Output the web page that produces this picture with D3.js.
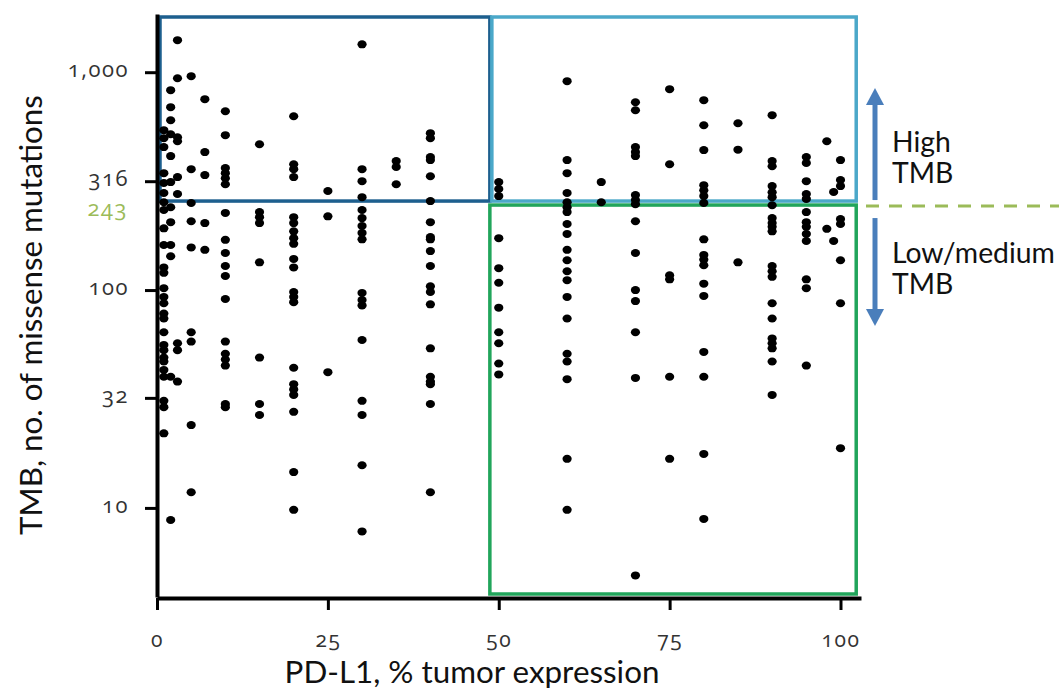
<!DOCTYPE html>
<html>
<head>
<meta charset="utf-8">
<script src="https://cdn.jsdelivr.net/npm/d3@7"></script>
<style>
  body { margin: 0; background: #fff; }
  .tick text, .num { font-family: "Open Sans", "Noto Sans", sans-serif; font-variant-numeric: oldstyle-nums; letter-spacing: 1.5px; }
  .title, .note { font-family: Lato, "Open Sans", sans-serif; fill: #111; }
</style>
</head>
<body>
<div id="chart"></div>
<script>
// PD-L1 Stufen (x) und TMB-Werte je Stufe (y)
const pdl1Levels = [1, 2, 3, 5, 7, 10, 15, 20, 25, 30, 35, 40, 50, 60, 65, 70, 75, 80, 85, 90, 95, 98, 99, 100];
const tmbByLevel = [
  [542, 498, 453, 344, 310, 279, 253, 233, 192, 161, 127, 120, 102, 93, 87, 78, 74, 64, 56, 53, 49, 47, 43, 40, 31, 29, 22],
  [827, 691, 602, 519, 412, 313, 240, 205, 161, 143, 40, 8.8],
  [1403, 938, 503, 482, 330, 276, 57, 53, 38],
  [959, 359, 251, 207, 157, 64, 58, 24, 11.8],
  [752, 430, 337, 203, 153],
  [662, 514, 363, 344, 326, 306, 226, 170, 148, 129, 116, 91, 58, 51, 48, 45, 30, 29],
  [467, 228, 216, 203, 134, 49, 30, 26.7],
  [628, 378, 359, 330, 216, 203, 186, 173, 163, 139, 127, 98, 93, 88, 44, 37, 35, 33, 27.6, 14.6, 9.8],
  [285, 218, 42],
  [1343, 359, 316, 267, 233, 214, 197, 183, 171, 97, 90, 85, 59, 31, 26.7, 15.7, 7.8],
  [391, 367, 306],
  [525, 498, 408, 395, 333, 256, 205, 175, 171, 151, 129, 104, 98, 86, 54, 40, 38, 37, 30, 11.8],
  [313, 291, 270, 173, 126, 108, 83, 64, 57, 46, 41],
  [910, 395, 344, 279, 253, 240, 228, 201, 181, 153, 137, 122, 111, 93, 74, 51, 47, 39, 16.8, 9.8],
  [313, 253],
  [728, 669, 453, 430, 412, 273, 259, 248, 207, 148, 100, 89, 64, 39.5, 4.9],
  [836, 378, 117, 112, 40, 16.8],
  [744, 571, 439, 303, 287, 270, 251, 171, 145, 138, 130, 107, 94, 52, 40, 17.7, 8.9],
  [583, 441, 134],
  [635, 391, 370, 300, 281, 267, 245, 214, 203, 195, 186, 129, 122, 115, 87, 74, 60, 57, 54, 47, 33],
  [408, 383, 316, 276, 262, 228, 205, 195, 181, 168, 112, 102, 45],
  [482, 191],
  [282, 168],
  [395, 320, 300, 212, 201, 137, 87, 18.8]
];

const xTicks = [0, 25, 50, 75, 100];
const yTicks = [10, 32, 100, 316, 1000];
const yTickLabels = ["10", "32", "100", "316", "1,000"];
const tmbCut = 243;
const pdl1Cut = 48.7;

const points = [];
pdl1Levels.forEach(function(p, i) {
  tmbByLevel[i].forEach(function(t) { points.push({pdl1: p, tmb: t}); });
});

const svg = d3.select("#chart").append("svg")
  .attr("width", 1059)
  .attr("height", 690);

const x = d3.scaleLinear().domain([0, 103]).range([157, 861]);
const y = d3.scaleLog().domain([3.9, 1850]).range([597, 14]);

// Schriftgröße so wählen, dass der Text eine bestimmte Breite hat
function fitWidth(sel, w) {
  const n = sel.node();
  const fs = parseFloat(sel.attr("font-size"));
  sel.attr("font-size", fs * w / n.getComputedTextLength());
  return sel;
}

// Rahmen der Quadranten
const boxTop = y.range()[1] + 3;
const cutY = y(tmbCut);
svg.append("rect")
  .attr("x", x(0) + 3).attr("y", boxTop)
  .attr("width", x(pdl1Cut) - x(0) - 3).attr("height", cutY - 5 - boxTop)
  .attr("fill", "none").attr("stroke", "#1d5f8e").attr("stroke-width", 3.5);
svg.append("rect")
  .attr("x", x(pdl1Cut) + 2).attr("y", boxTop)
  .attr("width", x(102.3) - x(pdl1Cut) - 2).attr("height", cutY - 5 - boxTop)
  .attr("fill", "none").attr("stroke", "#4ba8c9").attr("stroke-width", 3.5);
svg.append("rect")
  .attr("x", x(pdl1Cut)).attr("y", cutY - 1)
  .attr("width", x(102.3) - x(pdl1Cut)).attr("height", y.range()[0] - 3 - (cutY - 1))
  .attr("fill", "none").attr("stroke", "#21a55b").attr("stroke-width", 3.5);

// Punkte
svg.append("g")
  .selectAll("ellipse")
  .data(points)
  .enter().append("ellipse")
  .attr("cx", d => x(d.pdl1))
  .attr("cy", d => y(d.tmb))
  .attr("rx", 4.6)
  .attr("ry", 4)
  .attr("fill", "#000");

// Achsen
const yAxis = svg.append("g")
  .attr("transform", "translate(157,0)")
  .call(d3.axisLeft(y).tickValues(yTicks).tickFormat((d, i) => yTickLabels[i]).tickSize(12).tickSizeOuter(0).tickPadding(16));
yAxis.select(".domain").attr("stroke-width", 4);
yAxis.selectAll(".tick line").attr("stroke-width", 3);
yAxis.selectAll(".tick text").attr("font-size", 22).attr("fill", "#333").attr("dy", "0.2em");

const xAxis = svg.append("g")
  .attr("transform", "translate(0,598)")
  .call(d3.axisBottom(x).tickValues(xTicks).tickSize(12).tickSizeOuter(0).tickPadding(22));
xAxis.select(".domain").attr("stroke-width", 4);
xAxis.selectAll(".tick line").attr("stroke-width", 3);
xAxis.selectAll(".tick text").attr("font-size", 21).attr("fill", "#333");

// 243 Beschriftung
svg.append("text")
  .attr("class", "num")
  .attr("x", 128).attr("y", cutY + 10)
  .attr("text-anchor", "end")
  .attr("font-size", 22)
  .attr("fill", "#9bbb59")
  .text("243");

// Achsentitel
fitWidth(svg.append("text")
  .attr("class", "title")
  .attr("x", 472).attr("y", 683)
  .attr("text-anchor", "middle")
  .attr("font-size", 24)
  .text("PD-L1, % tumor expression"), 375);

fitWidth(svg.append("text")
  .attr("class", "title")
  .attr("transform", "translate(42,315) rotate(-90)")
  .attr("text-anchor", "middle")
  .attr("font-size", 24)
  .text("TMB, no. of missense mutations"), 440);

// gestrichelte Schwelle rechts
svg.append("line")
  .attr("x1", 866).attr("x2", 1059)
  .attr("y1", cutY).attr("y2", cutY)
  .attr("stroke", "#9bbb59").attr("stroke-width", 3)
  .attr("stroke-dasharray", "13,10");

// Pfeile
const arrowX = 875;
function arrow(y0, y1) {
  const dir = y1 < y0 ? -1 : 1;
  svg.append("line")
    .attr("x1", arrowX).attr("x2", arrowX)
    .attr("y1", y0).attr("y2", y1 - dir * 14)
    .attr("stroke", "#4a7ebb").attr("stroke-width", 5);
  svg.append("path")
    .attr("d", `M${arrowX - 9},${y1 - dir * 17}L${arrowX + 9},${y1 - dir * 17}L${arrowX},${y1}Z`)
    .attr("fill", "#4a7ebb");
}
arrow(cutY - 6, 88);
arrow(cutY + 12, 326);

const low = fitWidth(svg.append("text").attr("class", "note").attr("x", 892).attr("y", 263)
  .attr("font-size", 22).text("Low/medium"), 163);
const noteSize = low.attr("font-size");
svg.append("text").attr("class", "note").attr("x", 892).attr("y", 152).attr("font-size", noteSize).text("High");
svg.append("text").attr("class", "note").attr("x", 892).attr("y", 183).attr("font-size", noteSize).text("TMB");
svg.append("text").attr("class", "note").attr("x", 892).attr("y", 294).attr("font-size", noteSize).text("TMB");
</script>
</body>
</html>
